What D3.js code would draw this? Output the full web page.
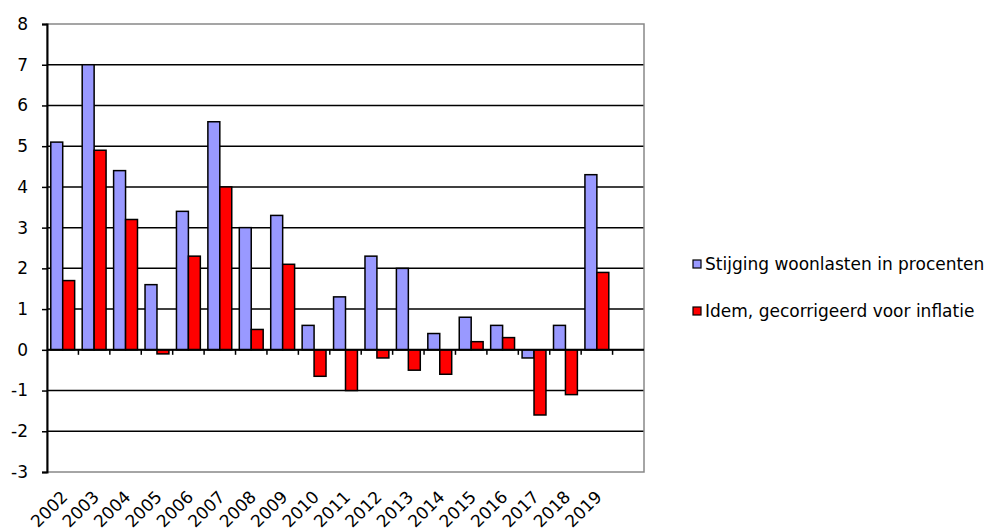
<!DOCTYPE html>
<html>
<head>
<meta charset="utf-8">
<script src="https://cdn.jsdelivr.net/npm/d3@7"></script>
<style>
  body { margin: 0; background: #fff; }
  text { font-family: "DejaVu Sans", sans-serif; fill: #000; }
</style>
</head>
<body>
<svg id="chart" width="995" height="531"></svg>
<script>
var years = ["2002", "2003", "2004", "2005", "2006", "2007", "2008", "2009", "2010",
    "2011", "2012", "2013", "2014", "2015", "2016", "2017", "2018", "2019", ""];
var stijging = [5.1, 7.0, 4.4, 1.6, 3.4, 5.6, 3.0, 3.3, 0.6, 1.3, 2.3, 2.0, 0.4, 0.8, 0.6, -0.2, 0.6, 4.3, null];
var gecorrigeerd = [1.7, 4.9, 3.2, -0.1, 2.3, 4.0, 0.5, 2.1, -0.65, -1.0, -0.2, -0.5, -0.6, 0.2, 0.3, -1.6, -1.1, 1.9, null];
var yTicks = [-3, -2, -1, 0, 1, 2, 3, 4, 5, 6, 7, 8];
var seriesNames = ["Stijging woonlasten in procenten", "Idem, gecorrigeerd voor inflatie"];
var colors = ["#9999ff", "#ff0000"];

var svg = d3.select("#chart"),
    plotLeft = 47, plotRight = 644, plotTop = 24, plotBottom = 472;

var x = d3.scaleBand().domain(d3.range(years.length)).range([plotLeft, plotRight]);
var y = d3.scaleLinear().domain([-3, 8]).range([plotBottom, plotTop]);
var bw = x.bandwidth() * 0.38;
var pad = (x.bandwidth() - 2 * bw) / 2;

// gridlines
svg.append("g").selectAll("line")
    .data(yTicks.filter(function(d) { return d > -3 && d < 8; }))
    .enter().append("line")
    .attr("x1", plotLeft).attr("x2", plotRight)
    .attr("y1", function(d) { return y(d); })
    .attr("y2", function(d) { return y(d); })
    .attr("stroke", "#000").attr("stroke-width", 1.5);

// plot border
svg.append("rect")
    .attr("x", plotLeft).attr("y", plotTop)
    .attr("width", plotRight - plotLeft).attr("height", plotBottom - plotTop)
    .attr("fill", "none").attr("stroke", "#888").attr("stroke-width", 1.5);

// bars
[stijging, gecorrigeerd].forEach(function(vals, s) {
    svg.append("g").selectAll("rect")
        .data(vals.map(function(v, i) { return {i: i, v: v}; }).filter(function(d) { return d.v !== null; }))
        .enter().append("rect")
        .attr("x", function(d) { return x(d.i) + pad + s * bw; })
        .attr("y", function(d) { return y(Math.max(0, d.v)); })
        .attr("width", bw)
        .attr("height", function(d) { return Math.abs(y(d.v) - y(0)); })
        .attr("fill", colors[s])
        .attr("stroke", "#000").attr("stroke-width", 1.5);
});

// y axis
var yAxis = svg.append("g")
    .attr("transform", "translate(" + plotLeft + ",0)")
    .call(d3.axisLeft(y).tickValues(yTicks).tickSize(5).tickPadding(14).tickFormat(String));
yAxis.select(".domain").attr("stroke", "#000").attr("stroke-width", 2);
yAxis.selectAll(".tick line").attr("stroke", "#000").attr("stroke-width", 1.5);
yAxis.selectAll("text").style("font-size", "17px").style("font-family", "DejaVu Sans, sans-serif");

// x axis at zero
var xAxis = svg.append("g")
    .attr("transform", "translate(0," + y(0) + ")");
xAxis.append("line").attr("x1", plotLeft).attr("x2", plotRight)
    .attr("stroke", "#000").attr("stroke-width", 2);
xAxis.selectAll(".tk")
    .data(d3.range(1, years.length))
    .enter().append("line")
    .attr("x1", function(i) { return x(i); })
    .attr("x2", function(i) { return x(i); })
    .attr("y1", 0).attr("y2", 5)
    .attr("stroke", "#000").attr("stroke-width", 1.5);

// category labels
svg.append("g").selectAll("text")
    .data(years.map(function(yr, i) { return {yr: yr, i: i}; }).filter(function(d) { return d.yr; }))
    .enter().append("text")
    .attr("transform", function(d) {
        return "translate(" + (x(d.i) + x.bandwidth() / 2 + 6) + "," + (plotBottom + 26) + ") rotate(-45)";
    })
    .attr("text-anchor", "end")
    .style("font-size", "17px")
    .text(function(d) { return d.yr; });

// legend
var legend = svg.append("g").selectAll("g")
    .data(seriesNames)
    .enter().append("g")
    .attr("transform", function(d, i) { return "translate(693," + (260 + i * 47) + ")"; });
legend.append("rect")
    .attr("x", 0).attr("y", 0).attr("width", 8).attr("height", 8)
    .attr("fill", function(d, i) { return colors[i]; })
    .attr("stroke", "#000").attr("stroke-width", 1.2);
legend.append("text")
    .attr("x", 12).attr("y", 10)
    .style("font-size", "17px")
    .text(function(d) { return d; });
</script>
</body>
</html>
